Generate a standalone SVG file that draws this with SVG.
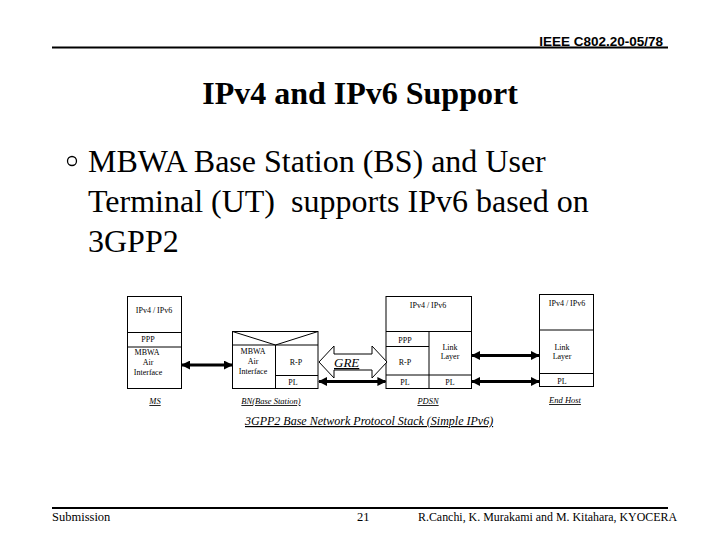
<svg xmlns="http://www.w3.org/2000/svg" width="720" height="540" viewBox="0 0 720 540">
<style>
.bx{fill:none;stroke:#000;stroke-width:1}
.t{font-family:"Liberation Serif","Times New Roman",serif;font-size:8px;text-anchor:middle;fill:#000}
.lbl{font-family:"Liberation Serif","Times New Roman",serif;font-size:8.5px;font-style:italic;text-decoration:underline;text-anchor:middle;fill:#000}
.ar{stroke:#000;stroke-width:3;marker-start:url(#ah);marker-end:url(#ah)}
.ft{font-family:"Liberation Serif","Times New Roman",serif;font-size:12.5px;fill:#000}
</style>
<defs>
<marker id="ah" viewBox="0 0 10 10" refX="9" refY="5" markerWidth="9" markerHeight="9" markerUnits="userSpaceOnUse" orient="auto-start-reverse">
<path d="M0,0 L10,5 L0,10 z" fill="#000"/>
</marker>
</defs>
<rect width="720" height="540" fill="#fff"/>
<g id="header">
<text x="663" y="45.5" font-family="Liberation Sans,Arial,sans-serif" font-size="13.5" font-weight="bold" text-anchor="end">IEEE C802.20-05/78</text>
<line x1="52" y1="47.5" x2="668" y2="47.5" stroke="#000" stroke-width="2"/>
</g>
<g id="title">
<text x="360" y="104" font-family="Liberation Serif,Times New Roman,serif" font-size="32" font-weight="bold" text-anchor="middle">IPv4 and IPv6 Support</text>
</g>
<g id="bullet">
<circle cx="72" cy="161" r="4.5" fill="none" stroke="#000" stroke-width="1.3"/>
<text font-family="Liberation Serif,Times New Roman,serif" font-size="32">
<tspan x="88" y="172">MBWA Base Station (BS) and User</tspan>
<tspan x="88" y="212" xml:space="preserve">Terminal (UT)  supports IPv6 based on</tspan>
<tspan x="88" y="252">3GPP2</tspan>
</text>
</g>
<g id="ms">
<rect class="bx" x="127.5" y="296.5" width="54" height="92"/>
<line class="bx" x1="127.5" y1="332.5" x2="181.5" y2="332.5"/>
<line class="bx" x1="127.5" y1="347" x2="181.5" y2="347"/>
<text class="t" x="154" y="313">IPv4 / IPv6</text>
<text class="t" x="148" y="342">PPP</text>
<text class="t" x="147" y="355">MBWA</text>
<text class="t" x="148" y="365">Air</text>
<text class="t" x="148" y="375">Interface</text>
<text class="lbl" x="155" y="404">MS</text>
</g>
<g id="bs">
<rect class="bx" x="232.5" y="331.5" width="85.5" height="57"/>
<polyline class="bx" points="232.5,331.5 275.5,345 318,331.5"/>
<line class="bx" x1="232.5" y1="345" x2="318" y2="345"/>
<line class="bx" x1="275.5" y1="345" x2="275.5" y2="388.5"/>
<line class="bx" x1="275.5" y1="375.5" x2="318" y2="375.5"/>
<text class="t" x="253" y="354">MBWA</text>
<text class="t" x="253" y="364">Air</text>
<text class="t" x="253" y="374">Interface</text>
<text class="t" x="296" y="365">R-P</text>
<text class="t" x="293" y="385">PL</text>
<text class="lbl" x="271" y="404">BN(Base Station)</text>
</g>
<g id="pdsn">
<rect class="bx" x="386" y="296.5" width="85.5" height="92"/>
<line class="bx" x1="386" y1="331.5" x2="471.5" y2="331.5"/>
<line class="bx" x1="386" y1="346.5" x2="429" y2="346.5"/>
<line class="bx" x1="429" y1="331.5" x2="429" y2="388.5"/>
<line class="bx" x1="386" y1="375" x2="471.5" y2="375"/>
<text class="t" x="428" y="308">IPv4 / IPv6</text>
<text class="t" x="405" y="343">PPP</text>
<text class="t" x="405" y="365">R-P</text>
<text class="t" x="405" y="385">PL</text>
<text class="t" x="450" y="350">Link</text>
<text class="t" x="450" y="359">Layer</text>
<text class="t" x="450" y="385">PL</text>
<text class="lbl" x="428" y="404">PDSN</text>
</g>
<g id="endhost">
<rect class="bx" x="539.5" y="294.5" width="54" height="92"/>
<line class="bx" x1="539.5" y1="330" x2="593.5" y2="330"/>
<line class="bx" x1="539.5" y1="373.5" x2="593.5" y2="373.5"/>
<text class="t" x="567" y="306">IPv4 / IPv6</text>
<text class="t" x="562" y="350">Link</text>
<text class="t" x="562" y="359">Layer</text>
<text class="t" x="562" y="384">PL</text>
<text class="lbl" x="565" y="403">End Host</text>
</g>
<g id="connectors">
<line class="ar" x1="182" y1="365" x2="232" y2="365"/>
<line class="ar" x1="319" y1="381.5" x2="385.5" y2="381.5"/>
<line class="ar" x1="472" y1="355.5" x2="539" y2="355.5"/>
<line class="ar" x1="472" y1="381.5" x2="539" y2="381.5"/>
<polygon points="319,362 334,346 334,354 372,354 372,346 387,362 372,378 372,370 334,370 334,378" fill="#fff" stroke="#000" stroke-width="1"/>
<text x="334" y="367" font-family="Liberation Serif,Times New Roman,serif" font-size="13" font-style="italic" text-decoration="underline">GRE</text>
</g>
<g id="caption">
<text x="245" y="425" font-family="Liberation Serif,Times New Roman,serif" font-size="12" font-style="italic" text-decoration="underline">3GPP2 Base Network Protocol Stack (Simple IPv6)</text>
</g>
<g id="footer">
<line x1="52" y1="508" x2="668" y2="508" stroke="#000" stroke-width="2"/>
<text class="ft" x="52" y="521">Submission</text>
<text class="ft" x="357" y="521">21</text>
<text class="ft" x="418" y="521" textLength="259" lengthAdjust="spacingAndGlyphs">R.Canchi, K. Murakami and M. Kitahara, KYOCERA</text>
</g>
</svg>
